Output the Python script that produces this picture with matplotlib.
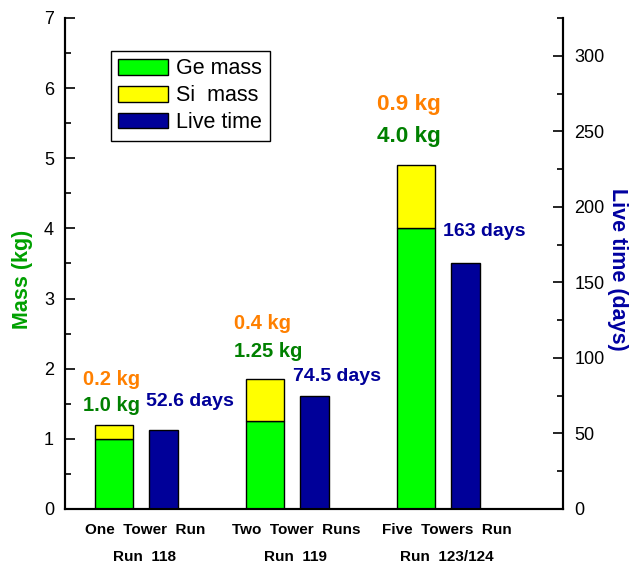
import matplotlib
matplotlib.use("Agg")
import matplotlib.pyplot as plt
import numpy as np

plt.rcParams['font.family'] = ['Liberation Sans', 'DejaVu Sans']

# data
groups = ["One  Tower  Run\nRun  118",
          "Two  Tower  Runs\nRun  119",
          "Five  Towers  Run\nRun  123/124"]
ge_mass = [1.0, 1.25, 4.0]
si_mass = [0.2, 0.6, 0.9]      # drawn heights (middle bar is drawn taller than its label)
live_days = [52.6, 74.5, 163]

ge_labels = ["1.0 kg", "1.25 kg", "4.0 kg"]
si_labels = ["0.2 kg", "0.4 kg", "0.9 kg"]
day_labels = ["52.6 days", "74.5 days", "163 days"]

# label placement (kg axis for masses, days axis for live time)
si_label_y = [1.84, 2.65, 5.76]
ge_label_y = [1.48, 2.24, 5.31]
kg_label_dx = [-0.37, -0.37, -0.42]
kg_label_size = [14.5, 14.5, 16.2]
day_label_y = [70.9, 87.4, 183.4]
day_label_dx = [0.048, 0.021, 0.015]

GREEN = '#00ff00'
YELLOW = '#ffff00'
NAVY = '#000099'
ORANGE = '#ff8000'
DKGREEN = '#008000'

fig = plt.figure(figsize=(6.3, 5.67), dpi=100)
ax = fig.add_axes([0.1032, 0.1023, 0.7905, 0.866])
ax2 = ax.twinx()

x = np.arange(len(groups))
off = 0.164

b1 = ax.bar(x - off, ge_mass, width=0.25, color=GREEN, edgecolor='black', linewidth=1, label='Ge mass')
b2 = ax.bar(x - off, si_mass, width=0.25, bottom=ge_mass, color=YELLOW, edgecolor='black',
            linewidth=1, label='Si  mass')
b3 = ax2.bar(x + off, live_days, width=0.19, color=NAVY, edgecolor='black', linewidth=1,
             label='Live time')

for i in range(len(groups)):
    ax.text(x[i] + kg_label_dx[i], si_label_y[i], si_labels[i], color=ORANGE,
            fontsize=kg_label_size[i], fontweight='bold', ha='left', va='center')
    ax.text(x[i] + kg_label_dx[i], ge_label_y[i], ge_labels[i], color=DKGREEN,
            fontsize=kg_label_size[i], fontweight='bold', ha='left', va='center')
    ax2.text(x[i] + day_label_dx[i], day_label_y[i], day_labels[i], color=NAVY, fontsize=14,
             fontweight='bold', ha='left', va='center')

ax.set_xlim(-0.488, 2.810)
ax.set_ylim(0, 7)
ax2.set_ylim(0, 325)

ax.set_yticks(np.arange(0, 8, 1))
ax.set_yticks(np.arange(0.5, 7, 1), minor=True)
ax2.set_yticks(np.arange(0, 301, 50))
ax2.set_yticks(np.arange(25, 326, 50), minor=True)

ax.set_xticks(x + 0.04)
ax.set_xticklabels(groups, fontsize=11, fontweight='bold', linespacing=2.15)
ax.tick_params(axis='x', length=0, pad=10)

ax.tick_params(axis='y', which='major', direction='in', length=7.5, width=1.2, labelsize=13, pad=8)
ax.tick_params(axis='y', which='minor', direction='in', length=4, width=1.2)
ax2.tick_params(axis='y', which='major', direction='in', length=7, width=1.2, labelsize=13, pad=8)
ax2.tick_params(axis='y', which='minor', direction='in', length=4, width=1.2)

for a in (ax, ax2):
    a.spines['top'].set_visible(False)
    for s in ('left', 'right', 'bottom'):
        a.spines[s].set_linewidth(1.5)

ax.text(-0.086, 0.468, 'Mass (kg)', transform=ax.transAxes, rotation=90, color='#00a000',
        fontsize=15.5, fontweight='bold', ha='center', va='center')
ax2.text(1.110, 0.487, 'Live time (days)', transform=ax2.transAxes, rotation=270, color='#0000a0',
         fontsize=15.5, fontweight='bold', ha='center', va='center')

leg = ax2.legend(handles=[b1, b2, b3], loc='upper left', bbox_to_anchor=(0.092, 0.933),
                 fontsize=15.5, frameon=True, fancybox=False, edgecolor='black', framealpha=1,
                 handlelength=2.3, handleheight=0.75, handletextpad=0.4, labelspacing=0.27,
                 borderpad=0.35, borderaxespad=0)
leg.get_frame().set_linewidth(1)

fig.savefig('out.png', dpi=100)
